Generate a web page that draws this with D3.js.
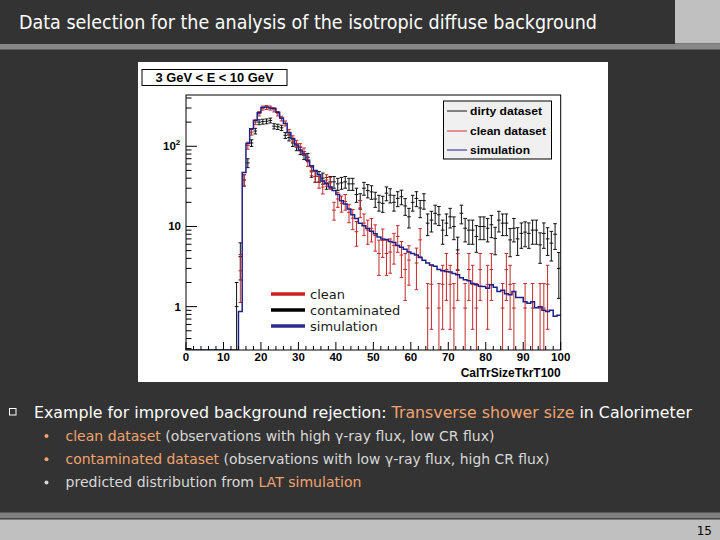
<!DOCTYPE html>
<html>
<head>
<meta charset="utf-8">
<script src="https://cdn.jsdelivr.net/npm/d3@7"></script>
<style>
  html, body { margin: 0; padding: 0; background: #333333; }
  svg { display: block; }
</style>
</head>
<body>
<svg id="slide" width="720" height="540"></svg>
<script>
// histogram: 100 bins of width 1 on CalTrSizeTkrT100 in [0, 100]
const binRange = [0, 100];

// dirty (contaminated) dataset, one value per bin, null = empty bin
const dirty = [
  null, null, null, null, null, null, null, null, null, null,
  null, null, null, 1, 4.2, 38, 62, 110, 155, 200,
  203, 205, 210, 178, 175, 170, 137, 128, 110, 98,
  88, 77, 73, 48, 42, 42, 40, 35, 36, 36,
  34, 35, 36, 34, 34, 25, 21, 30, 28, 27,
  22, 20, 19.4, 26, 24.6, 20, 22.4, 23.5, 18, 13.2,
  20, 22.4, 17, 21, 11, 12, 14.6, 14, 9, 11,
  13.2, 10, 5.1, 14.6, 9.5, 9, 9, 7.5, 10, 10,
  9.5, 10.5, 7.1, 12, 11, 11, 6.8, 9.5, 7, 8.2,
  8.5, 8.2, 9, 9, 5.9, 8.2, 7, 6.2, 8, 3
];

// clean dataset
const clean = [
  null, null, null, null, null, null, null, null, null, null,
  null, null, null, null, 2.8, 38, 102, 150, 200, 255,
  300, 305, 300, 285, 255, 222, 193, 150, 124, 108,
  98, 86, 64, 50, 42, 36, 31, 38, 35, 16,
  22, 19.5, 20.5, 15, 12.7, 8.6, 17, 11, 9, 9.5,
  7.7, 4.6, 6.7, 4.6, 4.8, 5.8, 7.5, 4.4, 2.9, 3.8,
  null, 3.5, 6.8, null, 0.96, 1.9, null, 0.96, 1.9, 2.9,
  1.9, 0.96, 2.9, null, 0.96, 2.9, 1.9, 0.96, 2.9, null,
  1.9, 2.9, null, null, 0.96, 2.9, 1.9, 0.96, null, null,
  0.96, null, 0.96, null, 0.96, 0.96, 1.9, null, null, null
];

// LAT simulation prediction
const simulation = [
  0, 0, 0, 0, 0, 0, 0, 0, 0, 0,
  0, 0, 0, 0, 0.87, 47, 108, 166, 210, 262,
  305, 310, 300, 296, 265, 225, 192, 148, 125, 104,
  90, 80, 67, 57, 50, 44, 37, 34, 31, 28,
  25, 21, 19, 16.5, 14, 12.6, 11, 10.2, 9.4, 8.7,
  8.1, 7.4, 7.0, 6.9, 6.5, 6.3, 5.8, 5.5, 5.2, 4.8,
  4.6, 4.4, 4.1, 3.8, 3.5, 3.3, 3.2, 2.9, 2.8, 2.75,
  2.7, 2.6, 2.5, 2.3, 2.16, 2.1, 1.95, 1.88, 1.8, 1.78,
  1.7, 1.88, 1.75, 1.55, 1.6, 1.45, 1.41, 1.55, 1.3, 1.3,
  1.15, 1.1, 1.15, 0.97, 1.0, 0.9, 0.87, 0.9, 0.76, 0.78
];

const xTicks = [0, 10, 20, 30, 40, 50, 60, 70, 80, 90, 100];
const yTicks = [1, 10, 100];
const yRange = [0.288, 436];

const rootLegend = ["dirty dataset", "clean dataset", "simulation"];
const slideLegend = ["clean", "contaminated", "simulation"];

const svg = d3.select("#slide");
const W = 720, H = 540;

// ---------- slide chrome ----------
svg.append("rect").attr("width", W).attr("height", H).attr("fill", "#333333");
svg.append("rect").attr("x", 675).attr("y", 0).attr("width", 45).attr("height", 43.5).attr("fill", "#c0c0c0");
svg.append("rect").attr("x", 0).attr("y", 44).attr("width", W).attr("height", 5.5).attr("fill", "#878787");

svg.append("text")
  .attr("x", 19).attr("y", 29)
  .attr("font-family", "DejaVu Sans").attr("font-size", 19.5)
  .attr("fill", "#ffffff")
  .attr("textLength", 578).attr("lengthAdjust", "spacingAndGlyphs")
  .text("Data selection for the analysis of the isotropic diffuse background");

svg.append("rect").attr("x", 0).attr("y", 512.5).attr("width", W).attr("height", 6).attr("fill", "#808080");
svg.append("rect").attr("x", 0).attr("y", 518.5).attr("width", W).attr("height", 1).attr("fill", "#3c3c3c");
svg.append("rect").attr("x", 0).attr("y", 519.5).attr("width", W).attr("height", 20.5).attr("fill", "#c0c0c0");
svg.append("text")
  .attr("x", 712).attr("y", 535).attr("text-anchor", "end")
  .attr("font-family", "DejaVu Sans").attr("font-size", 12)
  .attr("fill", "#000").text("15");

// ---------- ROOT canvas ----------
svg.append("rect").attr("x", 138).attr("y", 62).attr("width", 470).attr("height", 320).attr("fill", "#ffffff");

const frame = { left: 186, right: 560.7, top: 95, bottom: 350 };
const x = d3.scaleLinear().domain(binRange).range([frame.left, frame.right]);
const y = d3.scaleLog().domain(yRange).range([frame.bottom, frame.top]);

svg.append("defs").append("clipPath").attr("id", "frameClip")
  .append("rect")
  .attr("x", frame.left).attr("y", frame.top)
  .attr("width", frame.right - frame.left).attr("height", frame.bottom - frame.top);

const plot = svg.append("g").attr("clip-path", "url(#frameClip)");

function drawErrors(values, color) {
  const g = plot.append("g").attr("stroke", color).attr("stroke-width", 1).attr("fill", "none");
  values.forEach((v, i) => {
    if (v == null || v <= 0) return;
    const err = Math.sqrt(v);
    const cx = x(i + 0.5);
    const yt = y(v + err);
    const yb = v - err > yRange[0] ? y(v - err) : frame.bottom + 2;
    g.append("line").attr("x1", x(i)).attr("x2", x(i + 1)).attr("y1", y(v)).attr("y2", y(v));
    g.append("line").attr("x1", cx).attr("x2", cx).attr("y1", yt).attr("y2", yb);
    g.append("line").attr("x1", cx - 1.8).attr("x2", cx + 1.8).attr("y1", yt).attr("y2", yt);
    if (v - err > yRange[0]) {
      g.append("line").attr("x1", cx - 1.8).attr("x2", cx + 1.8).attr("y1", yb).attr("y2", yb);
    }
  });
}

drawErrors(dirty, "#111111");
drawErrors(clean, "#c42a2a");

// simulation as a step histogram
const simPts = simulation.map((v, i) => [i, v]).concat([[100, simulation[99]]]);
plot.append("path")
  .datum(simPts)
  .attr("fill", "none")
  .attr("stroke", "#1f1f88")
  .attr("stroke-width", 1.5)
  .attr("d", d3.line()
    .x(d => x(d[0]))
    .y(d => d[1] > 0 ? y(d[1]) : frame.bottom)
    .curve(d3.curveStepAfter));

// frame
svg.append("rect")
  .attr("x", frame.left).attr("y", frame.top)
  .attr("width", frame.right - frame.left).attr("height", frame.bottom - frame.top)
  .attr("fill", "none").attr("stroke", "#000").attr("stroke-width", 1);

// axes (ROOT style: ticks inside)
const axes = svg.append("g").attr("stroke", "#000").attr("stroke-width", 1);
d3.range(0, 101, 2).forEach(t => {
  const major = t % 10 === 0;
  axes.append("line")
    .attr("x1", x(t)).attr("x2", x(t))
    .attr("y1", frame.bottom).attr("y2", frame.bottom - (major ? 8 : 4));
});
const yMinor = [];
[0.1, 1, 10, 100].forEach(d => d3.range(1, 10).forEach(k => {
  const v = d * k;
  if (v >= yRange[0] && v <= yRange[1]) yMinor.push(v);
}));
yMinor.forEach(v => {
  const major = yTicks.includes(v);
  axes.append("line")
    .attr("x1", frame.left).attr("x2", frame.left + (major ? 11 : 5.5))
    .attr("y1", y(v)).attr("y2", y(v));
});

const rootFont = "Liberation Sans";
svg.append("g").selectAll("text").data(xTicks).join("text")
  .attr("x", d => x(d)).attr("y", 361)
  .attr("text-anchor", "middle")
  .attr("font-family", rootFont).attr("font-weight", "bold").attr("font-size", 11.5)
  .text(d => d);

svg.append("text")
  .attr("x", frame.right).attr("y", 376.5).attr("text-anchor", "end")
  .attr("font-family", rootFont).attr("font-weight", "bold").attr("font-size", 12)
  .attr("textLength", 100).attr("lengthAdjust", "spacingAndGlyphs")
  .text("CalTrSizeTkrT100");

const yLab = svg.append("g")
  .attr("font-family", rootFont).attr("font-weight", "bold").attr("font-size", 11.5);
yLab.append("text").attr("x", 181).attr("y", y(1) + 4).attr("text-anchor", "end").text("1");
yLab.append("text").attr("x", 181).attr("y", y(10) + 4).attr("text-anchor", "end").text("10");
const t100 = yLab.append("text").attr("x", 163).attr("y", y(100) + 4);
t100.append("tspan").text("10");
t100.append("tspan").attr("font-size", 8).attr("dy", -5).text("2");

// ROOT title box
svg.append("rect").attr("x", 142).attr("y", 69.5).attr("width", 145).attr("height", 16)
  .attr("fill", "#ffffff").attr("stroke", "#000").attr("stroke-width", 1);
svg.append("text")
  .attr("x", 214.5).attr("y", 82).attr("text-anchor", "middle")
  .attr("font-family", rootFont).attr("font-weight", "bold").attr("font-size", 12.5)
  .attr("textLength", 118).attr("lengthAdjust", "spacingAndGlyphs")
  .text("3 GeV < E < 10 GeV");

// ROOT legend
const legColors = ["#111111", "#d03030", "#1f1f88"];
const leg = svg.append("g");
leg.append("rect").attr("x", 443.5).attr("y", 101).attr("width", 108).attr("height", 58)
  .attr("fill", "#f0f0f0").attr("stroke", "#000").attr("stroke-width", 1);
const legY = [111, 131, 150];
const legW = [72, 76, 60];
rootLegend.forEach((name, i) => {
  leg.append("line").attr("x1", 447).attr("x2", 467).attr("y1", legY[i]).attr("y2", legY[i])
    .attr("stroke", legColors[i]).attr("stroke-width", 1);
  leg.append("text").attr("x", 470).attr("y", legY[i] + 4)
    .attr("font-family", rootFont).attr("font-weight", "bold").attr("font-size", 11.5)
    .attr("textLength", legW[i]).attr("lengthAdjust", "spacingAndGlyphs")
    .text(name);
});

// slide annotation legend over the plot
const annColors = ["#cc2020", "#000000", "#2c2c8c"];
const annY = [294, 310, 326];
slideLegend.forEach((name, i) => {
  svg.append("line").attr("x1", 271).attr("x2", 305).attr("y1", annY[i]).attr("y2", annY[i])
    .attr("stroke", annColors[i]).attr("stroke-width", 3.5);
  svg.append("text").attr("x", 310).attr("y", annY[i] + 4.5)
    .attr("font-family", "DejaVu Sans").attr("font-size", 13)
    .attr("fill", "#1a1a1a").text(name);
});

// ---------- bullet text ----------
const orange = "#f2a36f";
svg.append("rect").attr("x", 9.5).attr("y", 408.5).attr("width", 6.5).attr("height", 6.5)
  .attr("fill", "none").attr("stroke", "#ffffff").attr("stroke-width", 1);
const main = svg.append("text")
  .attr("x", 34).attr("y", 418)
  .attr("font-family", "DejaVu Sans").attr("font-size", 16).attr("fill", "#ffffff")
  .attr("textLength", 658).attr("lengthAdjust", "spacingAndGlyphs");
main.append("tspan").text("Example for improved background rejection: ");
main.append("tspan").attr("fill", orange).text("Transverse shower size");
main.append("tspan").text(" in Calorimeter");

const subLines = [
  { hi: "clean dataset", rest: " (observations with high \u03b3-ray flux, low CR flux)", pre: "", dot: orange, w: 429 },
  { hi: "contaminated dataset", rest: " (observations with low \u03b3-ray flux, high CR flux)", pre: "", dot: orange, w: 484 },
  { hi: "LAT simulation", rest: "", pre: "predicted distribution from ", dot: "#d8d8d8", w: 296 }
];
subLines.forEach((s, i) => {
  const by = 440.5 + i * 23.3;
  svg.append("circle").attr("cx", 46.5).attr("cy", by - 4.5).attr("r", 2).attr("fill", s.dot);
  const t = svg.append("text")
    .attr("x", 65.5).attr("y", by)
    .attr("font-family", "DejaVu Sans").attr("font-size", 14).attr("fill", "#d8d8d8")
    .attr("textLength", s.w).attr("lengthAdjust", "spacingAndGlyphs");
  if (s.pre) t.append("tspan").text(s.pre);
  t.append("tspan").attr("fill", orange).text(s.hi);
  if (s.rest) t.append("tspan").text(s.rest);
});
</script>
</body>
</html>
